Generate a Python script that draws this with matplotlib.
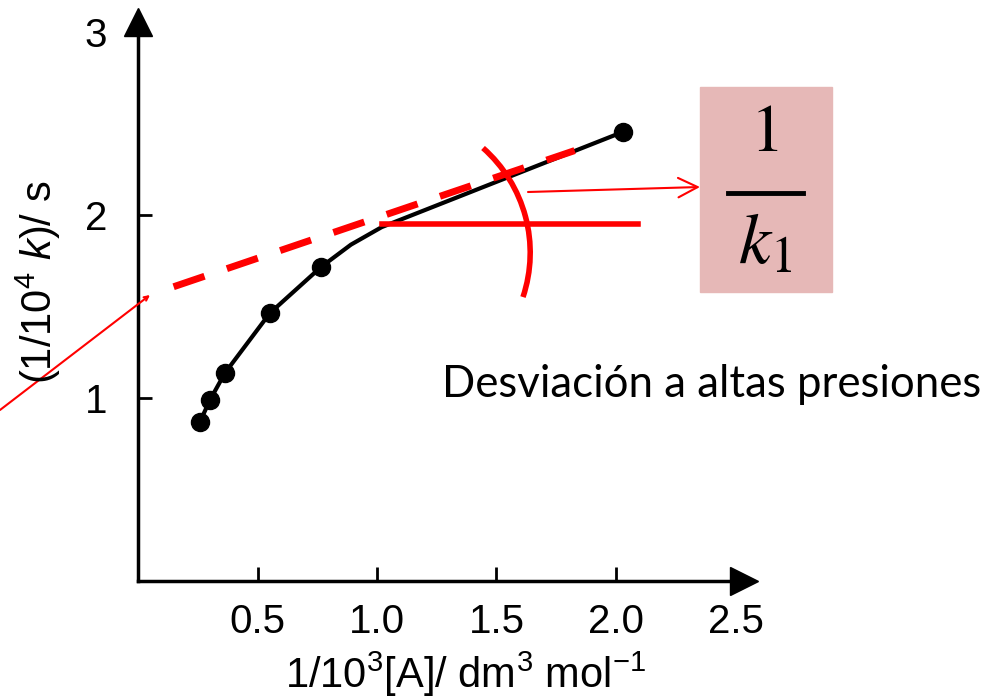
import matplotlib
matplotlib.use('Agg')
import matplotlib.pyplot as plt
from matplotlib.patches import Arc, Rectangle
from matplotlib.lines import Line2D

# ============================================================
# DATOS
# ============================================================
x_pts = [0.259, 0.301, 0.364, 0.552, 0.766, 2.029]
y_pts = [0.869, 0.989, 1.137, 1.464, 1.716, 2.454]

# trazo de la curva dibujada a mano (con el codo cerca de 1.0)
x_curve = [0.259, 0.301, 0.364, 0.552, 0.766, 0.891, 1.02, 2.029]
y_curve = [0.869, 0.989, 1.137, 1.464, 1.716, 1.838, 1.934, 2.454]

# recta extrapolada (roja discontinua)
x_extrap = [0.149, 1.827]
y_extrap = [1.608, 2.352]

# nivel horizontal rojo
x_level = [1.02, 2.09]
y_level = [1.951, 1.951]

xticks = [0.5, 1.0, 1.5, 2.0, 2.5]
xticklabels = ['0.5', '1.0', '1.5', '2.0', '2.5']
yticks = [1, 2, 3]
yticklabels = ['1', '2', '3']

# ============================================================
# FIGURA
# ============================================================
plt.rcParams['font.family'] = ['Liberation Sans', 'DejaVu Sans']
plt.rcParams['mathtext.fontset'] = 'custom'
plt.rcParams['mathtext.rm'] = 'Liberation Sans'
plt.rcParams['mathtext.it'] = 'Liberation Sans:italic'

W, H = 990, 699
fig = plt.figure(figsize=(W / 100, H / 100), dpi=100)

def fx(px):
    return px / W

def fy(py):
    return 1 - py / H

ax = fig.add_axes([fx(138), fy(581), (743.5 - 138) / W, (581 - 21.5) / H])
ax.set_xlim(0, (743.5 - 138) / 239)
ax.set_ylim(0, (581 - 21.5) / 183)

for s in ['top', 'right']:
    ax.spines[s].set_visible(False)
for s in ['left', 'bottom']:
    ax.spines[s].set_linewidth(2.5)

# flechas de los ejes
ax.plot(1, 0, '>', color='black', ms=20, transform=ax.transAxes, clip_on=False)
ax.plot(0, 1, '^', color='black', ms=20, transform=ax.transAxes, clip_on=False)

ax.set_xticks(xticks)
ax.set_xticklabels(xticklabels)
ax.set_yticks(yticks)
ax.set_yticklabels(yticklabels)
ax.tick_params(axis='x', direction='in', length=10, width=2, pad=16, labelsize=29)
ax.tick_params(axis='y', direction='in', length=10, width=2, pad=22, labelsize=29)
ax.xaxis.get_major_ticks()[-1].tick1line.set_visible(False)
ax.yaxis.get_major_ticks()[-1].tick1line.set_visible(False)

# curva y puntos
ax.plot(x_curve, y_curve, color='black', lw=3, zorder=3)
ax.plot(x_pts, y_pts, 'o', color='black', ms=13, zorder=4)

# anotaciones en rojo
ax.plot(x_extrap, y_extrap, color='red', lw=5, dashes=(4.7, 3.4),
        dash_capstyle='butt', zorder=5)
ax.plot(x_level, y_level, color='red', lw=4, zorder=5, clip_on=False)

arc = Arc((3.904, 4.463), 2.796, 2.796, theta1=-18.5, theta2=48.5,
          transform=fig.dpi_scale_trans, color='red', lw=4)
fig.add_artist(arc)

ax.annotate('', xy=(150, H - 295), xytext=(0, H - 410), xycoords='figure pixels',
            arrowprops=dict(arrowstyle='->,head_length=0.3,head_width=0.15',
                            color='red', lw=1.5, shrinkA=0, shrinkB=0))
ax.annotate('', xy=(700, H - 187), xytext=(528, H - 192), xycoords='figure pixels',
            arrowprops=dict(arrowstyle='->,head_length=0.7,head_width=0.35',
                            color='red', lw=1.5, shrinkA=0, shrinkB=0,
                            mutation_scale=20))

# recuadro 1/k1
fig.add_artist(Rectangle((7.00, (H - 292) / 100), 1.32, 2.05,
                         transform=fig.dpi_scale_trans, color='#E6B8B7', zorder=1))
fig.text(fx(767), fy(136), '1', fontsize=48, family='STIXGeneral',
         ha='center', va='center')
fig.add_artist(Line2D([7.28, 8.03], [(H - 193) / 100] * 2,
                      transform=fig.dpi_scale_trans, color='black', lw=3.5))
fig.text(fx(765), fy(245), '$k_1$', fontsize=52, math_fontfamily='stix',
         ha='center', va='center')

fig.text(fx(442), fy(397), 'Desviación a altas presiones', fontsize=31.5,
         family='Lato', ha='left', va='baseline')

# rótulos de los ejes
fig.text(fx(466), fy(688), r'1/10$^3$[A]/ dm$^3$ mol$^{-1}$', fontsize=30,
         ha='center', va='baseline')
fig.text(fx(38), fy(282), r'(1/10$^4$ $k$)/ s', fontsize=30, rotation=90,
         ha='center', va='center')

fig.savefig('out.png', dpi=100)
